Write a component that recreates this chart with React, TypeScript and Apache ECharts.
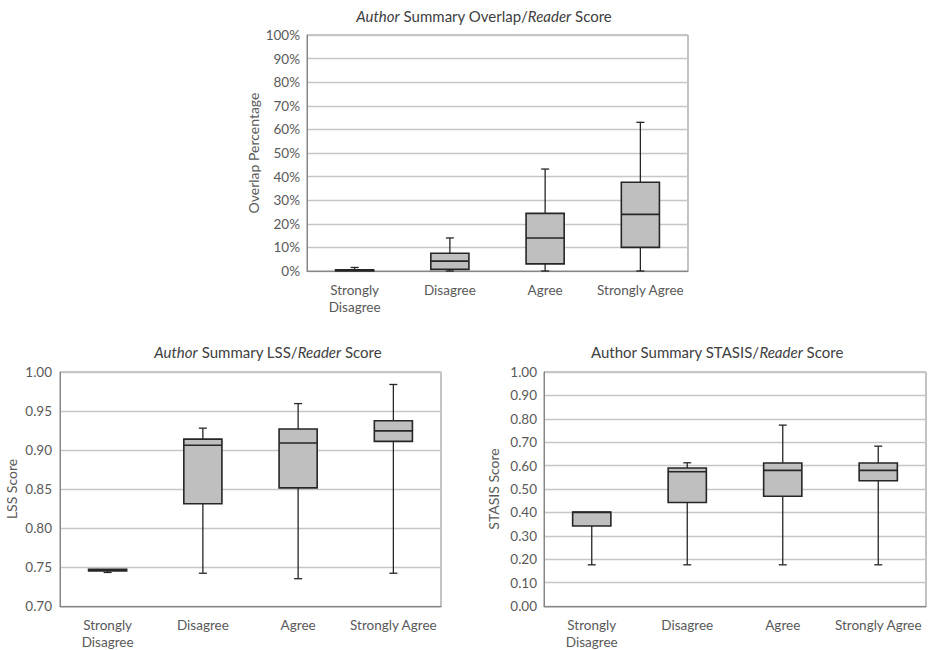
import React, { useEffect, useRef } from "react";
import * as echarts from "echarts";

const categories = ["Strongly\nDisagree", "Disagree", "Agree", "Strongly Agree"];

// [min, q1, median, q3, max]
const overlapStats = [
  [0.0, 0.0, 0.003, 0.005, 0.015],
  [0.0, 0.007, 0.042, 0.075, 0.14],
  [0.0, 0.03, 0.14, 0.244, 0.432],
  [0.0, 0.1, 0.24, 0.376, 0.63],
];
const lssStats = [
  [0.743, 0.745, 0.746, 0.747, 0.747],
  [0.742, 0.831, 0.906, 0.914, 0.928],
  [0.735, 0.8515, 0.909, 0.927, 0.9595],
  [0.742, 0.911, 0.9245, 0.9375, 0.984],
];
const stasisStats = [
  [0.176, 0.342, 0.4, 0.402, 0.402],
  [0.176, 0.442, 0.574, 0.5895, 0.612],
  [0.176, 0.469, 0.5795, 0.611, 0.773],
  [0.176, 0.5355, 0.5795, 0.611, 0.683],
];

const FONT = "Lato";
const TEXT = "#595959";

function boxRender(params: any, api: any) {
  const x = api.value(0);
  const vmin = api.value(1), q1 = api.value(2), med = api.value(3), q3 = api.value(4), vmax = api.value(5);
  const band = api.size([1, 0])[0];
  const bw = band * 0.4;
  const cap = 4;
  const pMin = api.coord([x, vmin]);
  const pQ1 = api.coord([x, q1]);
  const pMed = api.coord([x, med]);
  const pQ3 = api.coord([x, q3]);
  const pMax = api.coord([x, vmax]);
  const cx = pMed[0];
  const line = { stroke: "#262626", lineWidth: 1.3 };
  const children: any[] = [];
  if (pMax[1] < pQ3[1] - 0.5) {
    children.push({ type: "line", shape: { x1: cx, y1: pMax[1], x2: cx, y2: pQ3[1] }, style: line });
    children.push({ type: "line", shape: { x1: cx - cap, y1: pMax[1], x2: cx + cap, y2: pMax[1] }, style: line });
  }
  if (pMin[1] > pQ1[1] + 0.5) {
    children.push({ type: "line", shape: { x1: cx, y1: pQ1[1], x2: cx, y2: pMin[1] }, style: line });
    children.push({ type: "line", shape: { x1: cx - cap, y1: pMin[1], x2: cx + cap, y2: pMin[1] }, style: line });
  }
  children.push({
    type: "rect",
    shape: { x: cx - bw / 2, y: pQ3[1], width: bw, height: Math.max(pQ1[1] - pQ3[1], 1) },
    style: { fill: "#bfbfbf", stroke: "#262626", lineWidth: 1.6 },
  });
  children.push({ type: "line", shape: { x1: cx - bw / 2, y1: pMed[1], x2: cx + bw / 2, y2: pMed[1] }, style: { stroke: "#262626", lineWidth: 1.6 } });
  return { type: "group", children };
}

function toData(stats: number[][]) {
  return stats.map((s, i) => [i, ...s]);
}

export default function App() {
  const ref = useRef<HTMLDivElement>(null);
  useEffect(() => {
    if (!ref.current) return;
    const chart = echarts.init(ref.current, null, { renderer: "svg" });
    const axisLabel = { color: TEXT, fontFamily: FONT, fontSize: 13.5 };
    const nameStyle = { color: TEXT, fontFamily: FONT, fontSize: 14 };
    const grids = [
      { left: 307, top: 35, width: 381, height: 236 },
      { left: 60, top: 372, width: 381, height: 235 },
      { left: 544, top: 372, width: 382, height: 235 },
    ];
    const xAxes = grids.map((_, i) => ({
      type: "category",
      gridIndex: i,
      data: categories,
      axisTick: { show: false },
      axisLine: { lineStyle: { color: "#868686", width: 1 } },
      axisLabel: { ...axisLabel, margin: 10, lineHeight: 17, interval: 0 },
      splitLine: { show: false },
    }));
    const splitLine = { show: true, lineStyle: { color: "#c6c6c6", width: 1.3 } };
    const yAxes: any[] = [
      {
        type: "value", gridIndex: 0, min: 0, max: 1, interval: 0.1,
        axisLine: { show: true, lineStyle: { color: "#868686" } }, axisTick: { show: false },
        axisLabel: { ...axisLabel, margin: 7, formatter: (v: number) => Math.round(v * 100) + "%" },
        splitLine,
        name: "Overlap Percentage", nameLocation: "middle", nameGap: 47,
        nameTextStyle: nameStyle,
      },
      {
        type: "value", gridIndex: 1, min: 0.7, max: 1.0, interval: 0.05,
        axisLine: { show: true, lineStyle: { color: "#868686" } }, axisTick: { show: false },
        axisLabel: { ...axisLabel, margin: 8, formatter: (v: number) => v.toFixed(2) },
        splitLine,
        name: "LSS Score", nameLocation: "middle", nameGap: 42,
        nameTextStyle: nameStyle,
      },
      {
        type: "value", gridIndex: 2, min: 0, max: 1.0, interval: 0.1,
        axisLine: { show: true, lineStyle: { color: "#868686" } }, axisTick: { show: false },
        axisLabel: { ...axisLabel, margin: 7, formatter: (v: number) => v.toFixed(2) },
        splitLine,
        name: "STASIS Score", nameLocation: "middle", nameGap: 44,
        nameTextStyle: nameStyle,
      },
    ];
    const borders = grids.map((g) => ({
      type: "rect",
      shape: { x: g.left, y: g.top, width: g.width, height: g.height },
      style: { fill: "none", stroke: "#868686", lineWidth: 1 },
      silent: true,
      z: 0,
    }));
    const titleStyle = {
      color: "#404040",
      fontFamily: FONT,
      fontSize: 15,
      fontWeight: "normal",
      rich: { i: { fontStyle: "italic", fontWeight: "normal", color: "#404040", fontFamily: FONT, fontSize: 15 } },
    };
    chart.setOption({
      animation: false,
      backgroundColor: "#ffffff",
      title: [
        { text: "{i|Author} Summary Overlap/{i|Reader} Score", left: 479, top: 3, textAlign: "center", textStyle: titleStyle },
        { text: "{i|Author} Summary LSS/{i|Reader} Score", left: 263, top: 339, textAlign: "center", textStyle: titleStyle },
        { text: "Author Summary STASIS/{i|Reader} Score", left: 712, top: 339, textAlign: "center", textStyle: titleStyle },
      ],
      grid: grids,
      xAxis: xAxes,
      yAxis: yAxes,
      graphic: borders,
      series: [
        { type: "custom", xAxisIndex: 0, yAxisIndex: 0, renderItem: boxRender, data: toData(overlapStats), z: 5 },
        { type: "custom", xAxisIndex: 1, yAxisIndex: 1, renderItem: boxRender, data: toData(lssStats), z: 5 },
        { type: "custom", xAxisIndex: 2, yAxisIndex: 2, renderItem: boxRender, data: toData(stasisStats), z: 5 },
      ],
    });
    return () => chart.dispose();
  }, []);
  return <div ref={ref} style={{ position: "fixed", left: 0, top: 0, width: 928, height: 650, background: "#fff" }} />;
}
